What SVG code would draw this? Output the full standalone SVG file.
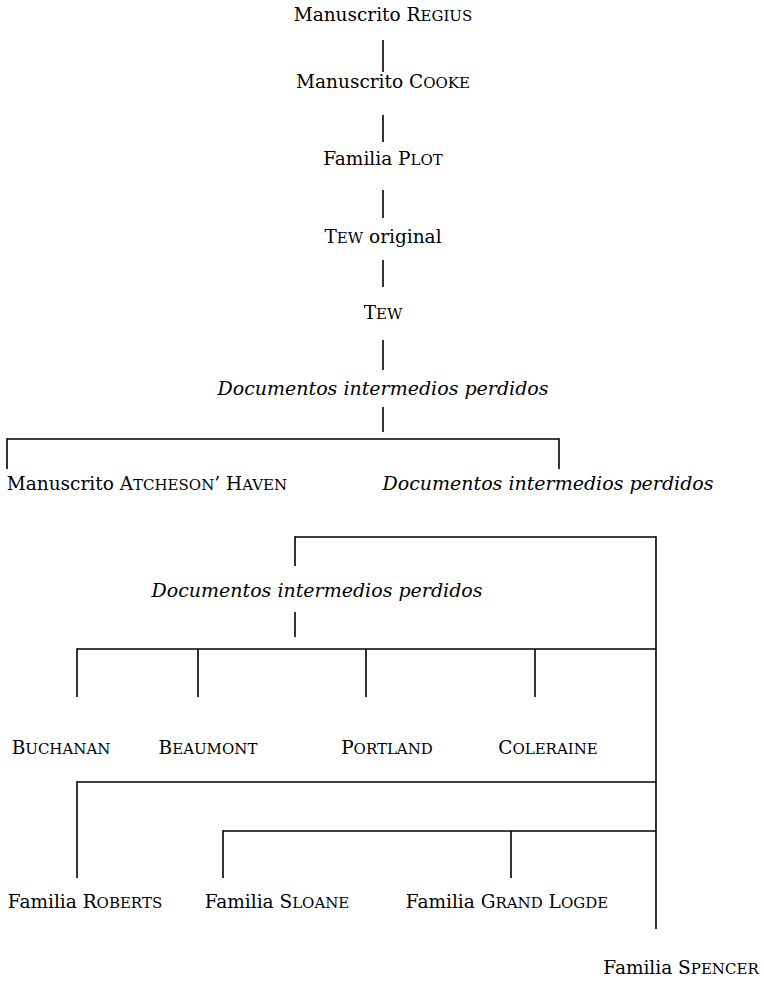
<svg xmlns="http://www.w3.org/2000/svg" width="764" height="981" viewBox="0 0 764 981">
<style>
text{font-family:"DejaVu Serif","Liberation Serif",serif;font-size:18.5px;fill:#000;text-anchor:middle}
.it{font-style:italic;font-size:19px}
.sc{font-size:15px}
#connectors line{stroke:#000;stroke-width:1.6;fill:none}
</style>
<rect width="764" height="981" fill="#fff"/>
<g id="connectors">
<line x1="383" y1="40" x2="383" y2="72"/>
<line x1="383" y1="115" x2="383" y2="142"/>
<line x1="383" y1="190" x2="383" y2="218"/>
<line x1="383" y1="260" x2="383" y2="287"/>
<line x1="383" y1="340" x2="383" y2="370"/>
<line x1="383" y1="407" x2="383" y2="432"/>
<line x1="7" y1="439" x2="559" y2="439"/>
<line x1="7" y1="438.2" x2="7" y2="469"/>
<line x1="559" y1="438.2" x2="559" y2="469"/>
<line x1="295" y1="537" x2="656" y2="537"/>
<line x1="295" y1="536.2" x2="295" y2="566"/>
<line x1="656" y1="536.2" x2="656" y2="929"/>
<line x1="295" y1="612" x2="295" y2="637"/>
<line x1="77" y1="649" x2="656" y2="649"/>
<line x1="77" y1="648.2" x2="77" y2="697"/>
<line x1="198" y1="649" x2="198" y2="697"/>
<line x1="366" y1="649" x2="366" y2="697"/>
<line x1="535" y1="649" x2="535" y2="697"/>
<line x1="77" y1="782" x2="656" y2="782"/>
<line x1="77" y1="781.2" x2="77" y2="878"/>
<line x1="223" y1="831" x2="656" y2="831"/>
<line x1="223" y1="830.2" x2="223" y2="878"/>
<line x1="511" y1="831" x2="511" y2="878"/>
</g>
<g id="regius"><text x="383" y="21">Manuscrito R<tspan class="sc">EGIUS</tspan></text></g>
<g id="cooke"><text x="383" y="88">Manuscrito C<tspan class="sc">OOKE</tspan></text></g>
<g id="plot"><text x="383" y="165">Familia P<tspan class="sc">LOT</tspan></text></g>
<g id="tew-original"><text x="383" y="243">T<tspan class="sc">EW</tspan> original</text></g>
<g id="tew"><text x="383" y="319">T<tspan class="sc">EW</tspan></text></g>
<g id="perdidos1"><text class="it" x="383" y="395">Documentos intermedios perdidos</text></g>
<g id="atcheson"><text x="147" y="490">Manuscrito A<tspan class="sc">TCHESON</tspan>’ H<tspan class="sc">AVEN</tspan></text></g>
<g id="perdidos2"><text class="it" x="548" y="490">Documentos intermedios perdidos</text></g>
<g id="perdidos3"><text class="it" x="317" y="597">Documentos intermedios perdidos</text></g>
<g id="buchanan"><text x="61" y="754">B<tspan class="sc">UCHANAN</tspan></text></g>
<g id="beaumont"><text x="208" y="754">B<tspan class="sc">EAUMONT</tspan></text></g>
<g id="portland"><text x="387" y="754">P<tspan class="sc">ORTLAND</tspan></text></g>
<g id="coleraine"><text x="548" y="754">C<tspan class="sc">OLERAINE</tspan></text></g>
<g id="roberts"><text x="85" y="908">Familia R<tspan class="sc">OBERTS</tspan></text></g>
<g id="sloane"><text x="277" y="908">Familia S<tspan class="sc">LOANE</tspan></text></g>
<g id="grandlogde"><text x="507" y="908">Familia G<tspan class="sc">RAND</tspan> L<tspan class="sc">OGDE</tspan></text></g>
<g id="spencer"><text x="681" y="974">Familia S<tspan class="sc">PENCER</tspan></text></g>
</svg>
